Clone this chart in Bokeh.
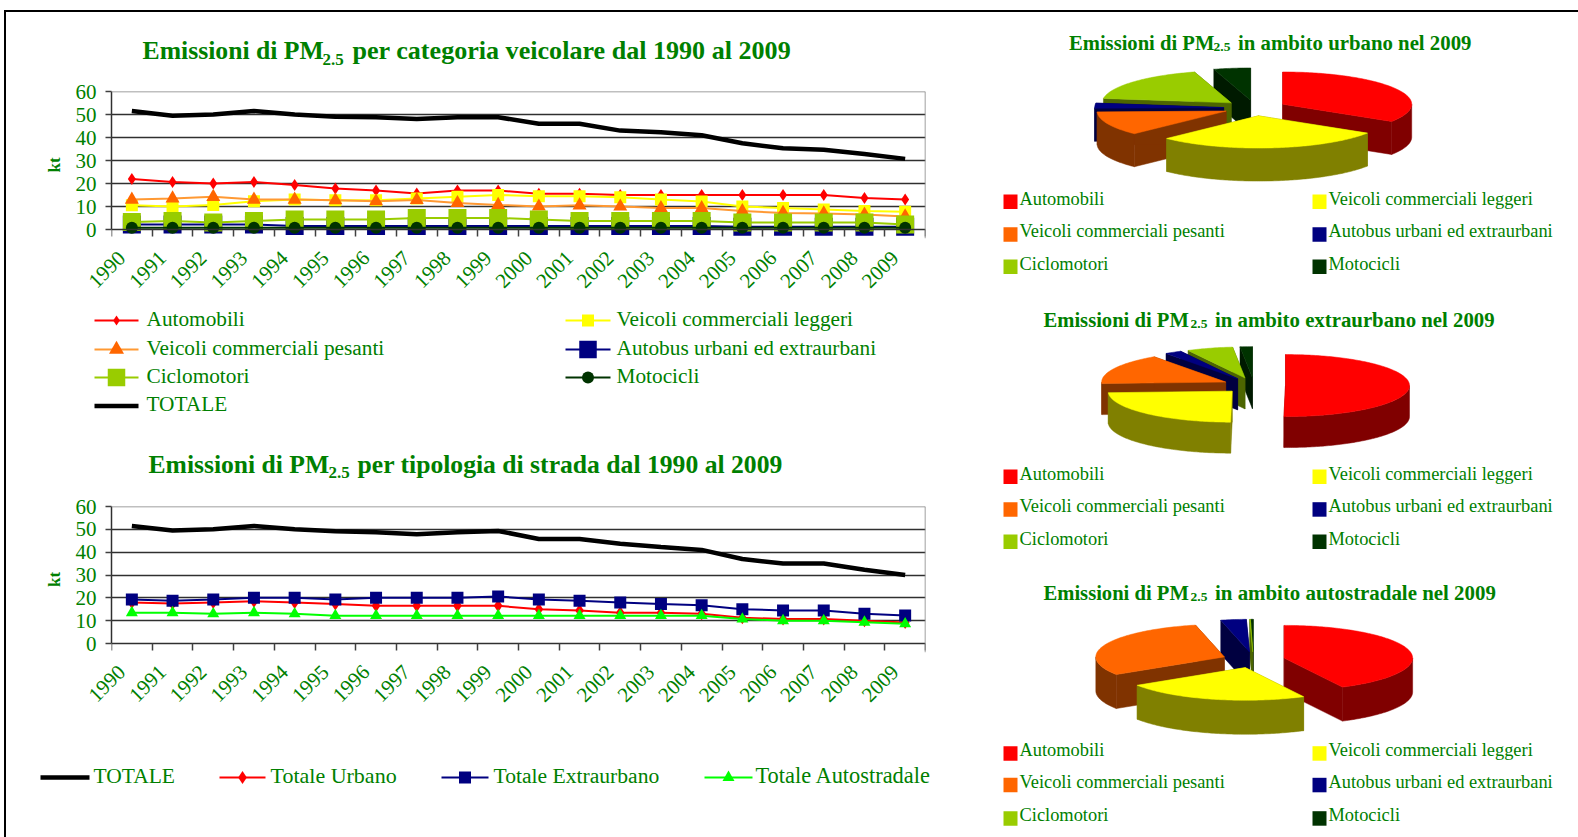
import math
from bokeh.embed import file_html
from bokeh.resources import INLINE
from bokeh.plotting import figure
from bokeh.layouts import column, row
from bokeh.models import Range1d, FixedTicker, Span, LinearAxis
from bokeh.core.properties import value

years = [str(y) for y in range(1990, 2010)]

# top chart (kt)
totale_cat = [51.5,49.5,50,51.5,50,49,48.8,48,48.8,48.8,46,46,43,42.3,41,37.5,35.3,34.7,32.8,30.7]
automobili = [22,20.7,20,20.7,19.3,17.8,17,15.7,17,17,15.5,15.5,15,15,15,15,15,15,13.7,13]
comm_leggeri = [10.5,10,10.7,12.3,13,12.7,12.7,13.5,14.2,15,14.5,14.5,14,13,12.2,10,9.3,8.7,8,7.7]
comm_pesanti = [13,13.5,14.2,13,13,12.7,12.3,12.8,11.5,10.7,10,10.5,10,9.3,9.3,8,7.2,7,6.5,5.7]
autobus = [2.2,2.2,2.2,2.2,1.5,1.5,1.5,1.5,1.5,1.5,1.5,1.5,1.5,1.5,1.5,1.2,1.2,1.2,1.2,1.2]
ciclomotori = [3.3,3.7,3,3.7,4.4,4.4,4.4,5,5,5,4.4,3.7,3.7,3.7,3.7,3,3,3,3,2.2]
motocicli = [0.8]*20

# bottom chart (kt)
totale_str = [51.5,49.5,50,51.5,50,49.2,48.7,47.8,48.7,49.3,45.8,45.8,43.7,42.3,41,37,35,35,32.3,30]
tot_urbano = [18,17.5,18,18.5,18,17.3,16.5,16.5,16.5,16.5,15,14.5,13.5,13.5,13,11.3,10.7,10.7,10,9.2]
tot_extra = [19.3,18.7,19.3,20,20,19.3,20,20,20,20.6,19.3,18.7,18,17.3,16.7,15,14.5,14.5,13,12.3]
tot_auto = [13.5,13.5,13,13.5,13,12.2,12.2,12.2,12.2,12.2,12.2,12.2,12.2,12.2,12.2,10.7,10,10,9.3,8.6]

# pie shares (%)
categorie = ["Automobili","Veicoli commerciali leggeri","Veicoli commerciali pesanti",
             "Autobus urbani ed extraurbani","Ciclomotori","Motocicli"]
pie_urbano = [34,28.6,12,2.6,18.2,4.6]
pie_extra = [50.2,24,16,2.2,6,1.6]
pie_autostrada = [42.5,23.4,30.5,3.2,0.1,0.3]

GREEN = "#008000"
SERIF = value("Liberation Serif")
top_cols = ["#ff0000","#ffff00","#ff6600","#000080","#99cc00","#003300"]
wall_cols = ["#800000","#808000","#803300","#000040","#4d6600","#001a00"]

def pixel_fig(x0, x1, y0, y1):
    p = figure(width=x1-x0, height=y1-y0, x_range=Range1d(x0, x1), y_range=Range1d(y1, y0),
               output_backend="svg", toolbar_location=None, min_border=0, outline_line_color=None,
               frame_align=False)
    p.axis.visible = False
    p.grid.visible = False
    return p

def txt(p, x, y, s, size, bold=False):
    p.text([x],[y-0.37*size],text=[s],text_font=SERIF,text_font_size=value(f"{size}px"),text_color=GREEN,
           text_align="left",text_baseline="alphabetic",text_font_style="bold" if bold else "normal")

def title(p, x1, x2, x3, y, rest, size, sub, drop, size_rest):
    txt(p, x1, y, "Emissioni di PM", size, True)
    txt(p, x2, y+drop, "2.5", sub, True)
    txt(p, x3, y, rest, size_rest, True)

def chart(height, ftop, fh):
    pad = 9   # room under the zero line so markers overhang the axis
    ylo = -pad*60/fh
    p = figure(width=970, height=height, x_range=Range1d(0,20), y_range=Range1d(ylo,60),
               output_backend="svg", toolbar_location=None, frame_align=False,
               min_border_left=105, min_border_right=51, min_border_top=ftop,
               min_border_bottom=height-ftop-fh-pad, outline_line_color=None)
    p.xgrid.visible = False
    p.ygrid.ticker = FixedTicker(ticks=[10,20,30,40,50])
    p.ygrid.grid_line_color = "#303030"
    p.ygrid.grid_line_width = 1.5
    p.add_layout(Span(location=60, dimension="width", line_color="#808080", line_width=1.5))
    p.add_layout(Span(location=20, dimension="height", line_color="#808080", line_width=1.5))
    p.yaxis.ticker = FixedTicker(ticks=[0,10,20,30,40,50,60])
    p.yaxis.bounds = (0, 60)
    p.yaxis.minor_tick_line_color = None
    p.yaxis.major_tick_in = 0
    p.yaxis.major_tick_out = 6
    p.yaxis.major_label_standoff = 9
    p.yaxis.axis_label = "kt"
    p.yaxis.axis_label_text_font = "Liberation Serif"
    p.yaxis.axis_label_text_font_style = "bold"
    p.yaxis.axis_label_text_font_size = "17px"
    p.yaxis.axis_label_text_color = GREEN
    p.yaxis.axis_label_standoff = 9
    # label axis at the frame's bottom edge: only the year labels
    p.xaxis.ticker = FixedTicker(ticks=[i+0.25 for i in range(20)])
    p.xaxis.major_label_overrides = {i+0.25: y for i, y in enumerate(years)}
    p.xaxis.axis_line_color = None
    p.xaxis.major_tick_line_color = None
    p.xaxis.minor_tick_line_color = None
    p.xaxis.major_tick_in = 0
    p.xaxis.major_tick_out = 0
    p.xaxis.major_label_orientation = math.pi/4
    p.xaxis.major_label_standoff = 16
    # zero line with its boundary ticks
    zero = LinearAxis(fixed_location=0, ticker=FixedTicker(ticks=list(range(21))))
    zero.major_label_text_color = None
    zero.major_label_text_font_size = "1px"
    zero.major_tick_in = 0
    zero.major_tick_out = 7
    zero.major_tick_line_color = "#404040"
    zero.major_tick_line_width = 1.5
    zero.minor_tick_line_color = None
    zero.axis_line_color = "#303030"
    zero.axis_line_width = 1.5
    p.add_layout(zero, "below")
    for ax in (p.xaxis[0], p.yaxis[0]):
        ax.major_label_text_font = "Liberation Serif"
        ax.major_label_text_font_size = "21px"
        ax.major_label_text_color = GREEN
    p.yaxis.axis_line_color = "#303030"
    p.yaxis.axis_line_width = 1.5
    p.yaxis.major_tick_line_color = "#404040"
    p.yaxis.major_tick_line_width = 1.5
    return p

xs = [i+0.5 for i in range(20)]
def series(p, ys, col, lw, marker=None, size=0, mcol=None):
    p.line(xs, ys, line_color=col, line_width=lw)
    if marker:
        p.scatter(xs, ys, marker=marker, size=size, fill_color=mcol or col, line_color=mcol or col, line_width=0)

cat_series = [
    ("Automobili", automobili, "#ff0000", 2, "diamond", 12, "#ff0000"),
    ("Veicoli commerciali leggeri", comm_leggeri, "#ffff00", 2, "square", 12, "#ffff00"),
    ("Veicoli commerciali pesanti", comm_pesanti, "#ff9933", 2, "triangle", 14, "#ff6600"),
    ("Autobus urbani ed extraurbani", autobus, "#000080", 2, "square", 18, "#000080"),
    ("Ciclomotori", ciclomotori, "#99cc00", 2, "square", 18, "#99cc00"),
    ("Motocicli", motocicli, "#003300", 2, "circle", 12, "#003300"),
    ("TOTALE", totale_cat, "#000000", 4.5, None, 0, None),
]
road_series = [
    ("TOTALE", totale_str, "#000000", 4.5, None, 0, None),
    ("Totale Urbano", tot_urbano, "#ff0000", 2, "diamond", 13, "#ff0000"),
    ("Totale Extraurbano", tot_extra, "#000080", 2, "square", 12, "#000080"),
    ("Totale Autostradale", tot_auto, "#00ff00", 2, "triangle", 12, "#00ff00"),
]

LEFT0, LEFT1 = 6, 976

# --- title 1
t1 = pixel_fig(LEFT0, LEFT1, 12, 75)
title(t1, 142, 322, 352, 60, "per categoria veicolare dal 1990 al 2009", 25.7, 17, 5, 26.1)

# --- chart 1  (75 -> 303)
c1 = chart(228, 16, 138)
for _, ys, col, lw, m, s, mc in cat_series:
    series(c1, ys, col, lw, m, s, mc)

# --- legend 1 + title 2
lg1 = pixel_fig(LEFT0, LEFT1, 303, 490)
rows1 = [(94,138,146,320),(565,610,616,320),(94,138,146,349),(565,610,616,349),(94,138,146,377),(565,610,616,377),(94,138,146,405.5)]
leg_sizes = [10,12,15,17.5,17.5,12,0]
for (x0,x1,xt,y),(name,_,col,lw,m,s,mc),sz in zip(rows1,cat_series,leg_sizes):
    lg1.line([x0,x1],[y,y],line_color=col,line_width=lw)
    if m:
        lg1.scatter([(x0+x1)/2],[y],marker=m,size=sz,fill_color=mc,line_color=mc,line_width=0)
    txt(lg1, xt, y+6, name, 21.3)
title(lg1, 148, 328, 357, 473, "per tipologia di strada dal 1990 al 2009", 25.6, 17, 5, 25.65)

# --- chart 2  (490 -> 722)
c2 = chart(232, 16, 137)
for _, ys, col, lw, m, s, mc in road_series:
    series(c2, ys, col, lw, m, s, mc)

# --- legend 2
lg2 = pixel_fig(LEFT0, LEFT1, 722, 837)
pos2 = [(40,89,93,21.5),(219,265,270,22),(441,488,493,21.6),(704,752,755,22.4)]
for (x0,x1,xt,fs),(name,_,col,lw,m,s,mc) in zip(pos2,road_series):
    lg2.line([x0,x1],[777,777],line_color=col,line_width=lw)
    if m:
        lg2.scatter([(x0+x1)/2],[777],marker=m,size=s,fill_color=mc,line_color=mc,line_width=0)
    txt(lg2, xt, 783, name, fs)

# --- right column
rc = pixel_fig(976, 1578, 12, 837)

def draw_pie(p, shares, cx, cy, r, k, depth, expl=31.5):
    total = sum(shares)
    a = 0.0
    slices = []
    for i, v in enumerate(shares):
        b = a + v/total*360
        slices.append((i, a, b))
        a = b
    def pt(ax, ay, ang, rad):
        t = math.radians(ang)
        return ax + rad*math.sin(t), ay - rad*k*math.cos(t)
    def order(s):
        return -math.cos(math.radians((s[1]+s[2])/2))
    xs_all, ys_all, cols = [], [], []
    for i, a1, a2 in sorted(slices, key=order):
        mid = (a1+a2)/2
        ax, ay = pt(cx, cy, mid, expl)
        for edge in (a1, a2):
            e0 = pt(ax, ay, edge, r)
            xs_all.append([ax, e0[0], e0[0], ax]); ys_all.append([ay, e0[1], e0[1]+depth, ay+depth]); cols.append(wall_cols[i])
        lo, hi = max(a1, 90), min(a2, 270)
        if hi > lo:
            n = max(2, int(hi-lo)+1)
            angs = [lo+(hi-lo)*j/(n-1) for j in range(n)]
            up = [pt(ax, ay, t, r) for t in angs]
            xs_all.append([q[0] for q in up]+[q[0] for q in reversed(up)])
            ys_all.append([q[1] for q in up]+[q[1]+depth for q in reversed(up)])
            cols.append(wall_cols[i])
        n = max(2, int(a2-a1)+1)
        angs = [a1+(a2-a1)*j/(n-1) for j in range(n)]
        arc = [pt(ax, ay, t, r) for t in angs]
        xs_all.append([ax]+[q[0] for q in arc]); ys_all.append([ay]+[q[1] for q in arc]); cols.append(top_cols[i])
    p.patches(xs_all, ys_all, fill_color=cols, line_color=cols, line_width=0.5)

def pie_legend(p, ys):
    for i, name in enumerate(categorie):
        c = i % 2
        base = ys[i//2]
        xs0 = 1003 if c == 0 else 1312
        p.quad(left=[xs0], right=[xs0+14], top=[base-11], bottom=[base+3.5], fill_color=top_cols[i], line_color=None)
        txt(p, 1019 if c == 0 else 1328, base, name, 18.4)

title(rc, 1068.5, 1213, 1237.5, 50, "in ambito urbano nel 2009", 20.6, 13.5, 1.5, 20.8)
draw_pie(rc, pie_urbano, 1254.6, 107.5, 129, 0.25, 33)
pie_legend(rc, [205, 237.7, 270])

title(rc, 1043, 1190, 1214.5, 326.7, "in ambito extraurbano nel 2009", 20.6, 13.5, 1.5, 20.8)
draw_pie(rc, pie_extra, 1253.5, 385, 124, 0.25, 31)
pie_legend(rc, [480, 512.7, 545])

title(rc, 1043, 1190, 1214.5, 600, "in ambito autostradale nel 2009", 20.6, 13.5, 1.5, 20.9)
draw_pie(rc, pie_autostrada, 1253, 659.4, 128.5, 0.254, 34)
pie_legend(rc, [756.7, 788.3, 821.7])

left = column(t1, c1, lg1, c2, lg2, spacing=0)
root = row(left, rc, spacing=0, margin=(10,0,0,4),
           styles={"border-top":"2px solid #000","border-left":"2px solid #000"})
open("out.html", "w").write(file_html(root, INLINE))
